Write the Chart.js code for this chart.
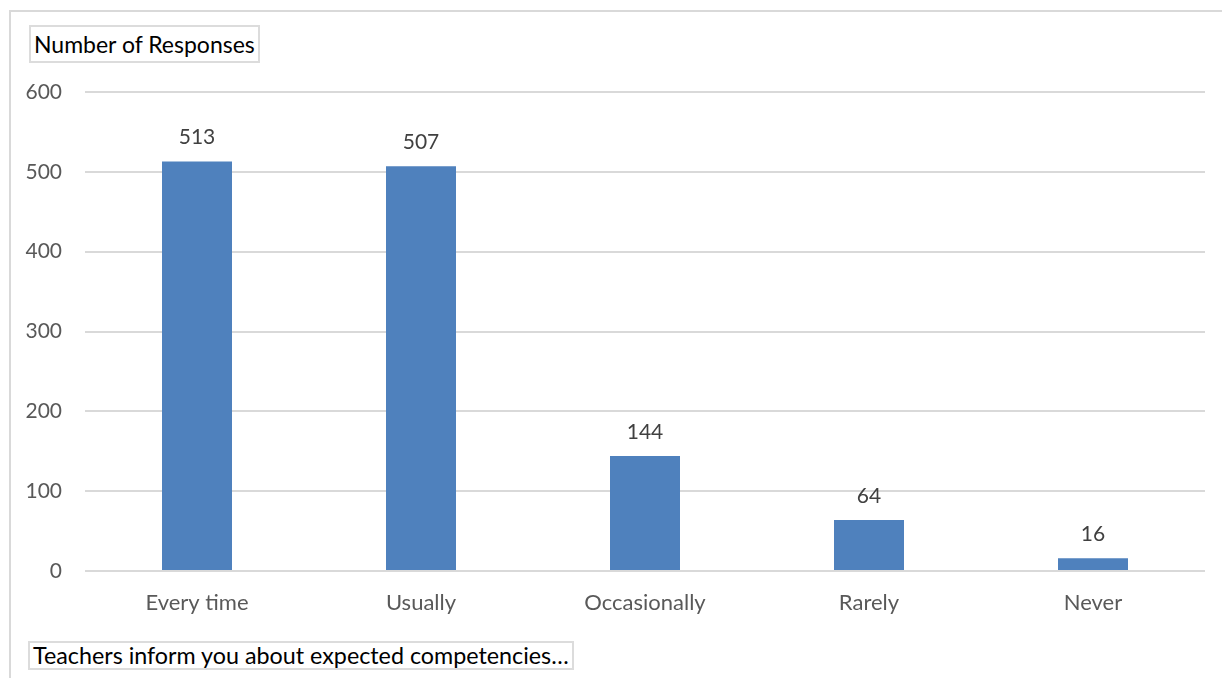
<!DOCTYPE html>
<html>
<head>
<meta charset="utf-8">
<script src="https://cdn.jsdelivr.net/npm/chart.js@4"></script>
<style>
  html, body { margin: 0; padding: 0; background: #fff; overflow: hidden; }
  #wrap { position: relative; width: 1222px; height: 678px; }
  #frame { position: absolute; left: 9px; top: 10px; width: 1400px; height: 800px;
           border-top: 2px solid #d9d9d9; border-left: 2px solid #d9d9d9; }
  .box { position: absolute; border: 2px solid #dcdcdc; background: #fff;
         font-family: Lato, sans-serif; color: #000; white-space: nowrap; padding: 0 3px; }
  #yTitle { left: 29px; top: 25px; height: 34px; line-height: 34px; font-size: 23px; }
  #xTitle { left: 28px; top: 641px; height: 25px; line-height: 25px; font-size: 23.3px; }
  canvas { position: absolute; left: 0; top: 0; }
</style>
</head>
<body>
<div id="wrap">
  <div id="frame"></div>
  <canvas id="responsesChart" width="1222" height="678"></canvas>
  <div class="box" id="yTitle">Number of Responses</div>
  <div class="box" id="xTitle">Teachers inform you about expected competencies…</div>
</div>
<script>
const categories = ['Every time', 'Usually', 'Occasionally', 'Rarely', 'Never'];
const responses = [513, 507, 144, 64, 16];
const yTicks = [0, 100, 200, 300, 400, 500, 600];

// draws the value above each bar
const barLabels = {
    id: 'barLabels',
    afterDatasetsDraw(chart) {
        const ctx = chart.ctx;
        ctx.save();
        ctx.font = '21px Lato, sans-serif';
        ctx.fillStyle = '#404040';
        ctx.textAlign = 'center';
        ctx.textBaseline = 'middle';
        chart.getDatasetMeta(0).data.forEach((bar, i) => {
            ctx.fillText(String(responses[i]), bar.x, bar.y - 24);
        });
        ctx.restore();
    }
};

document.addEventListener('DOMContentLoaded', function () {
    const ctx = document.getElementById('responsesChart').getContext('2d');
    new Chart(ctx, {
        type: 'bar',
        data: {
            labels: categories,
            datasets: [{
                label: 'Number of Responses',
                data: responses,
                backgroundColor: '#4f81bd',
                borderWidth: 0,
                categoryPercentage: 1,
                barPercentage: 0.3125
            }]
        },
        options: {
            responsive: false,
            animation: false,
            layout: { padding: { top: 92, right: 17, bottom: 0, left: 0 } },
            plugins: {
                legend: { display: false },
                tooltip: { enabled: false }
            },
            scales: {
                x: {
                    grid: { display: false, drawTicks: false },
                    border: { display: false },
                    ticks: {
                        color: '#595959',
                        font: { family: 'Lato', size: 22 },
                        padding: 19,
                        maxRotation: 0
                    },
                    afterFit(scale) { scale.height = 107; }
                },
                y: {
                    min: 0,
                    max: 600,
                    afterBuildTicks(scale) { scale.ticks = yTicks.map(v => ({ value: v })); },
                    grid: { color: '#d9d9d9', lineWidth: 2, drawTicks: false },
                    border: { display: false },
                    ticks: {
                        color: '#595959',
                        font: { family: 'Lato', size: 21 },
                        padding: 23
                    },
                    afterFit(scale) { scale.width = 85; }
                }
            }
        },
        plugins: [barLabels]
    });
});
</script>
</body>
</html>
